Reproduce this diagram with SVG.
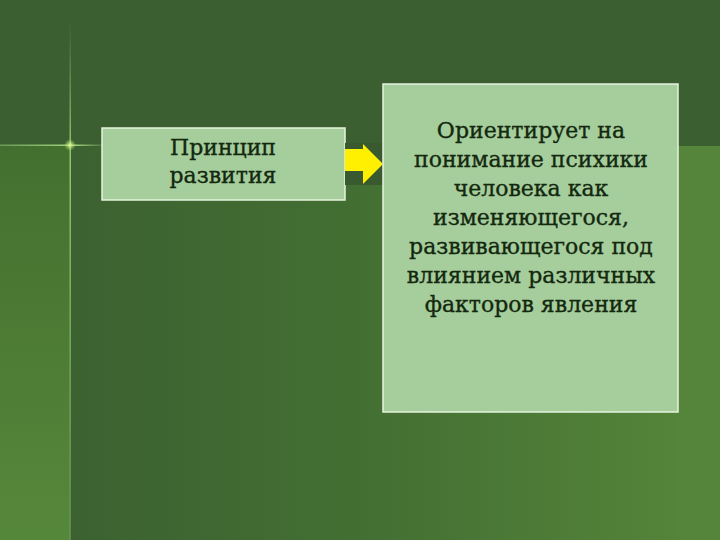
<svg xmlns="http://www.w3.org/2000/svg" width="720" height="540" viewBox="0 0 720 540">
<defs>
<linearGradient id="main" x1="0" y1="0" x2="1" y2="0">
<stop offset="0" stop-color="#3a5e30"/>
<stop offset="0.5" stop-color="#436f33"/>
<stop offset="1" stop-color="#56873a"/>
</linearGradient>
<linearGradient id="left" x1="0" y1="0" x2="0" y2="1">
<stop offset="0" stop-color="#44702f"/>
<stop offset="1" stop-color="#56883b"/>
</linearGradient>
<radialGradient id="glow">
<stop offset="0" stop-color="#e8ff9a" stop-opacity="1"/>
<stop offset="1" stop-color="#a8e060" stop-opacity="0"/>
</radialGradient>
<linearGradient id="vline" x1="0" y1="0" x2="0" y2="1">
<stop offset="0" stop-color="#8fbf70" stop-opacity="0"/>
<stop offset="0.25" stop-color="#9fd078" stop-opacity="0.9"/>
<stop offset="1" stop-color="#7fae60" stop-opacity="0.5"/>
</linearGradient>
<linearGradient id="hline" x1="0" y1="0" x2="1" y2="0">
<stop offset="0" stop-color="#8fbf70" stop-opacity="0.6"/>
<stop offset="0.7" stop-color="#a6d880" stop-opacity="1"/>
<stop offset="1" stop-color="#8fbf70" stop-opacity="0.2"/>
</linearGradient>
</defs>
<style>
.box{fill:#a5ce9c;stroke:#e6f3de;stroke-width:1.5}
.t{font-family:"DejaVu Serif","Liberation Serif",serif;fill:#14280f;stroke:#14280f;stroke-width:0.35;text-anchor:middle}
</style>
<rect x="0" y="0" width="720" height="540" fill="url(#main)"/>
<rect x="0" y="0" width="720" height="146" fill="#3b5f31"/>
<rect x="0" y="146" width="70" height="394" fill="url(#left)"/>
<rect x="678" y="146" width="42" height="394" fill="#55853a"/>
<rect x="69.5" y="20" width="1.5" height="520" fill="url(#vline)"/>
<rect x="0" y="144.5" width="105" height="1.5" fill="url(#hline)"/>
<circle cx="70" cy="145" r="6" fill="url(#glow)"/>
<g id="node-principle">
<rect class="box" x="102" y="128" width="243" height="72"/>
<text class="t" font-size="22" x="223" y="155">Принцип</text>
<text class="t" font-size="22" x="223" y="183">развития</text>
</g>
<g id="connectors">
<rect x="345" y="143" width="38" height="42" fill="#385a2e"/>
<polygon points="345,149 363,149 363,144 383,164 363,184 363,171 345,171" fill="#ffef00"/>
</g>
<g id="node-description">
<rect class="box" x="383" y="84" width="295" height="328"/>
<text class="t" font-size="22" x="531" y="138">Ориентирует на</text>
<text class="t" font-size="22" x="531" y="167">понимание психики</text>
<text class="t" font-size="22" x="531" y="196">человека как</text>
<text class="t" font-size="22" x="531" y="225">изменяющегося,</text>
<text class="t" font-size="22" x="531" y="254">развивающегося под</text>
<text class="t" font-size="22" x="531" y="283">влиянием различных</text>
<text class="t" font-size="22" x="531" y="312">факторов явления</text>
</g>
</svg>
